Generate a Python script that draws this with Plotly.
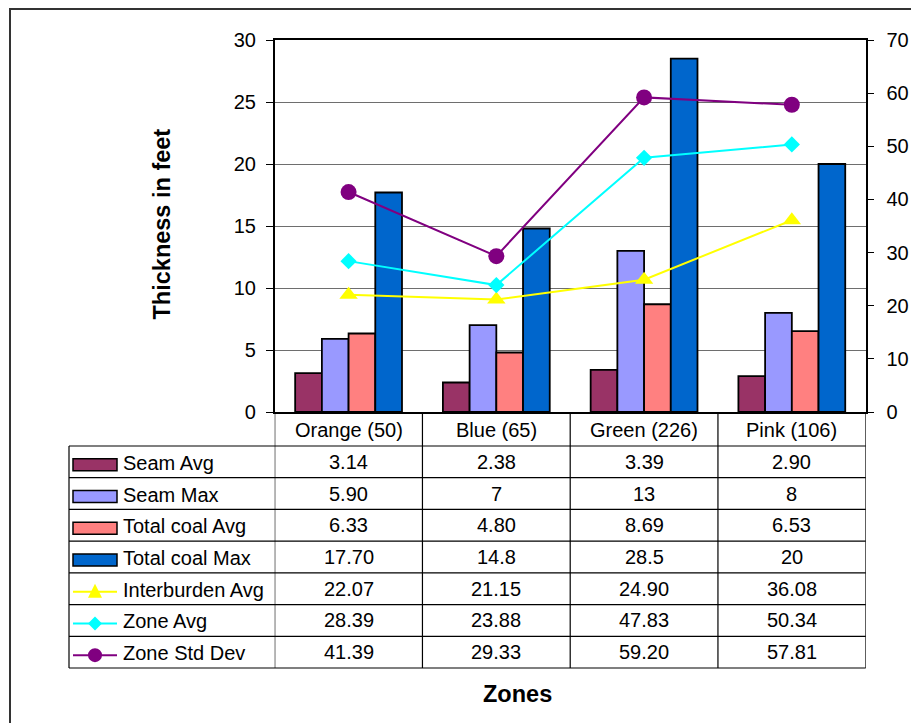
import plotly.graph_objects as go

W, H = 911, 723

categories = ["Orange (50)", "Blue (65)", "Green (226)", "Pink (106)"]

seam_avg = [3.14, 2.38, 3.39, 2.90]
seam_max = [5.90, 7, 13, 8]
coal_avg = [6.33, 4.80, 8.69, 6.53]
coal_max = [17.70, 14.8, 28.5, 20]
interburden_avg = [22.07, 21.15, 24.90, 36.08]
zone_avg = [28.39, 23.88, 47.83, 50.34]
zone_std = [41.39, 29.33, 59.20, 57.81]

seam_avg_txt = ["3.14", "2.38", "3.39", "2.90"]
seam_max_txt = ["5.90", "7", "13", "8"]
coal_avg_txt = ["6.33", "4.80", "8.69", "6.53"]
coal_max_txt = ["17.70", "14.8", "28.5", "20"]
interburden_txt = ["22.07", "21.15", "24.90", "36.08"]
zone_avg_txt = ["28.39", "23.88", "47.83", "50.34"]
zone_std_txt = ["41.39", "29.33", "59.20", "57.81"]

left_ticks = [0, 5, 10, 15, 20, 25, 30]
right_ticks = [0, 10, 20, 30, 40, 50, 60, 70]

FONT = "Liberation Sans, Arial, sans-serif"
FS = 20


def px(x):
    return x / W


def py(y):
    return 1 - y / H


PL, PR, PT, PB = 274.7, 865.7, 40.0, 412.0

fig = go.Figure()

bar_series = [
    ("Seam Avg", seam_avg, "#993366", seam_avg_txt),
    ("Seam Max", seam_max, "#9999FF", seam_max_txt),
    ("Total coal Avg", coal_avg, "#FF8080", coal_avg_txt),
    ("Total coal Max", coal_max, "#0066CC", coal_max_txt),
]
for name, vals, col, _ in bar_series:
    fig.add_trace(go.Bar(x=categories, y=vals, name=name, yaxis="y",
                         marker=dict(color=col, line=dict(color="black", width=1.8))))

line_series = [
    ("Interburden Avg", interburden_avg, "#FFFF00", "triangle-up", 16, interburden_txt),
    ("Zone Avg", zone_avg, "#00FFFF", "diamond", 12.5, zone_avg_txt),
    ("Zone Std Dev", zone_std, "#800080", "circle", 16, zone_std_txt),
]
for name, vals, col, sym, size, _ in line_series:
    fig.add_trace(go.Scatter(x=categories, y=vals, name=name, yaxis="y2", mode="lines+markers",
                             line=dict(color=col, width=2),
                             marker=dict(symbol=sym, size=size, color=col, line=dict(width=0))))

shapes = []
annotations = []

# outer chart border (cropped at right/bottom)
shapes.append(dict(type="rect", xref="paper", yref="paper", x0=px(10), y0=py(9), x1=1.05, y1=-0.05,
                   line=dict(color="#333333", width=2), fillcolor="rgba(0,0,0,0)", layer="below"))

T_LEFT = 69
HEAD_TOP, HEAD_BOT = PB, 446
ROW_H = (668 - 446) / 7
rows_y = [HEAD_BOT + ROW_H * i for i in range(8)]

line_col = "black"
for yy in rows_y:
    shapes.append(dict(type="line", xref="paper", yref="paper", x0=px(T_LEFT), x1=px(PR),
                       y0=py(yy), y1=py(yy), line=dict(color=line_col, width=1.2)))
shapes.append(dict(type="line", xref="paper", yref="paper", x0=px(T_LEFT), x1=px(T_LEFT),
                   y0=py(HEAD_BOT), y1=py(rows_y[-1]), line=dict(color=line_col, width=1.2)))
for b in [-0.5, 0.5, 1.5, 2.5, 3.5]:
    shapes.append(dict(type="line", xref="x", yref="paper", x0=b, x1=b,
                       y0=py(HEAD_TOP), y1=py(rows_y[-1]), line=dict(color=line_col, width=1.2)))

for c in categories:
    annotations.append(dict(x=c, y=py((HEAD_TOP + HEAD_BOT) / 2 + 1), xref="x", yref="paper",
                            text=c, showarrow=False, font=dict(family=FONT, size=FS, color="black"),
                            xanchor="center", yanchor="middle"))

all_rows = [(n, col, "bar", None, t) for n, _, col, t in bar_series] + \
           [(n, col, "line", sym, t) for n, _, col, sym, _, t in line_series]

KX0, KX1 = 73, 117
for i, (name, col, kind, sym, txt) in enumerate(all_rows):
    cy = rows_y[i] + ROW_H / 2
    if kind == "bar":
        shapes.append(dict(type="rect", xref="paper", yref="paper", x0=px(KX0), x1=px(KX1),
                           y0=py(cy + 9), y1=py(cy - 3), fillcolor=col,
                           line=dict(color="black", width=1.5)))
    else:
        ky = cy + 3
        shapes.append(dict(type="line", xref="paper", yref="paper", x0=px(KX0), x1=px(KX1),
                           y0=py(ky), y1=py(ky), line=dict(color=col, width=2)))
        mx = (KX0 + KX1) / 2
        if sym == "circle":
            shapes.append(dict(type="circle", xref="paper", yref="paper", x0=px(mx - 7), x1=px(mx + 7),
                               y0=py(ky - 7), y1=py(ky + 7), fillcolor=col, line=dict(width=0)))
        elif sym == "diamond":
            path = "M {} {} L {} {} L {} {} L {} {} Z".format(
                px(mx - 7), py(ky), px(mx), py(ky - 7), px(mx + 7), py(ky), px(mx), py(ky + 7))
            shapes.append(dict(type="path", xref="paper", yref="paper", path=path,
                               fillcolor=col, line=dict(width=0)))
        else:
            path = "M {} {} L {} {} L {} {} Z".format(
                px(mx - 7), py(ky + 6), px(mx + 7), py(ky + 6), px(mx), py(ky - 8))
            shapes.append(dict(type="path", xref="paper", yref="paper", path=path,
                               fillcolor=col, line=dict(width=0)))
    annotations.append(dict(x=px(121), y=py(cy + 1), xref="paper", yref="paper", text=name,
                            showarrow=False, xanchor="left", yanchor="middle",
                            font=dict(family=FONT, size=FS, color="black")))
    for c, t in zip(categories, txt):
        annotations.append(dict(x=c, y=py(cy), xref="x", yref="paper", text=t,
                                showarrow=False, xanchor="center", yanchor="middle",
                                font=dict(family=FONT, size=FS, color="black")))

annotations.append(dict(x=px(161.5), y=py(224), xref="paper", yref="paper", text="<b>Thickness in feet</b>",
                        textangle=-90, showarrow=False, xanchor="center", yanchor="middle",
                        font=dict(family=FONT, size=23.5, color="black")))
annotations.append(dict(x=px(517), y=py(694), xref="paper", yref="paper", text="<b>Zones</b>",
                        showarrow=False, xanchor="center", yanchor="middle",
                        font=dict(family=FONT, size=23.5, color="black")))

fig.update_layout(
    width=W, height=H,
    margin=dict(l=0, r=0, t=0, b=0, pad=0, autoexpand=False),
    paper_bgcolor="white", plot_bgcolor="white",
    showlegend=False,
    barmode="group", bargap=0.277, bargroupgap=0,
    font=dict(family=FONT, size=FS, color="black"),
    xaxis=dict(domain=[px(PL), px(PR)], showticklabels=False, ticks="", showgrid=False,
               showline=True, mirror=True, linecolor="black", linewidth=1.5, zeroline=False,
               range=[-0.5, 3.5], automargin=False),
    yaxis=dict(domain=[py(PB), py(PT)], range=[0, 30], tickvals=left_ticks, ticks="outside",
               ticklen=7, tickcolor="black", tickwidth=1.2, showline=True, linecolor="black", linewidth=1.5,
               showgrid=True, gridcolor="#6e6e6e", gridwidth=1.2, zeroline=False, automargin=False,
               ticklabelstandoff=6, tickfont=dict(family=FONT, size=FS, color="black")),
    yaxis2=dict(overlaying="y", side="right", range=[0, 70], tickvals=right_ticks, ticks="outside",
                ticklen=7, tickcolor="black", tickwidth=1.2, showline=True, linecolor="black", linewidth=1.5,
                showgrid=False, zeroline=False, anchor="x", automargin=False,
                ticklabelstandoff=8, tickfont=dict(family=FONT, size=FS, color="black")),
    shapes=shapes,
    annotations=annotations,
)

fig.write_html(
    "out.html",
    config={"responsive": False, "displayModeBar": False},
    post_script="document.body.style.margin='0';document.documentElement.style.overflow='hidden';",
)
